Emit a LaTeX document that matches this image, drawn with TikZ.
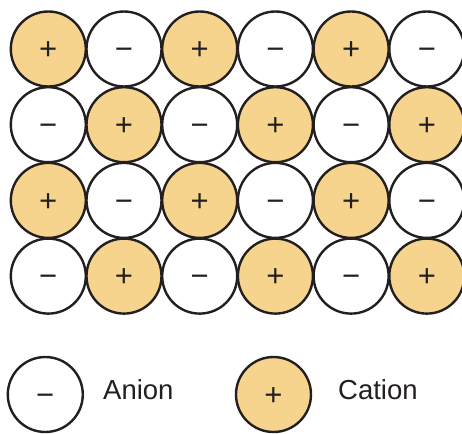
\documentclass[tikz,border=0pt]{standalone}
\usepackage{fontspec}
\setmainfont{Liberation Sans}
\definecolor{cationfill}{RGB}{247,212,142}
\definecolor{ink}{RGB}{35,31,32}
\begin{document}
\begin{tikzpicture}[x=1pt,y=-1pt,
  ion/.style={circle,draw=ink,line width=2.4pt,minimum size=75pt,inner sep=0pt,text=ink,
    font=\fontsize{31}{31}\selectfont,text height=21.7pt,text depth=0pt},
  cation/.style={ion,fill=cationfill},
  anion/.style={ion,fill=white},
  lbl/.style={anchor=base west,inner sep=0pt,text=ink,font=\fontsize{27.5}{28}\selectfont}]
\useasboundingbox (0,0) rectangle (462,433);
\foreach \r in {0,1,2,3}{
  \foreach \c in {0,...,5}{
    \pgfmathtruncatemacro{\parity}{mod(\r+\c,2)}
    \ifnum\parity=0
      \node[cation] (n\r\c) at (48.3+75.7*\c,49+75.7*\r) {+};
    \else
      \node[anion] (n\r\c) at (48.3+75.7*\c,49+75.7*\r) {−};
    \fi
  }
}
\node[anion] (la) at (45.3,394.5) {−};
\node[lbl] (ta) at (103,399) {Anion};
\node[cation] (lc) at (273.5,394.5) {+};
\node[lbl] (tc) at (338,399) {Cation};
\end{tikzpicture}
\end{document}
